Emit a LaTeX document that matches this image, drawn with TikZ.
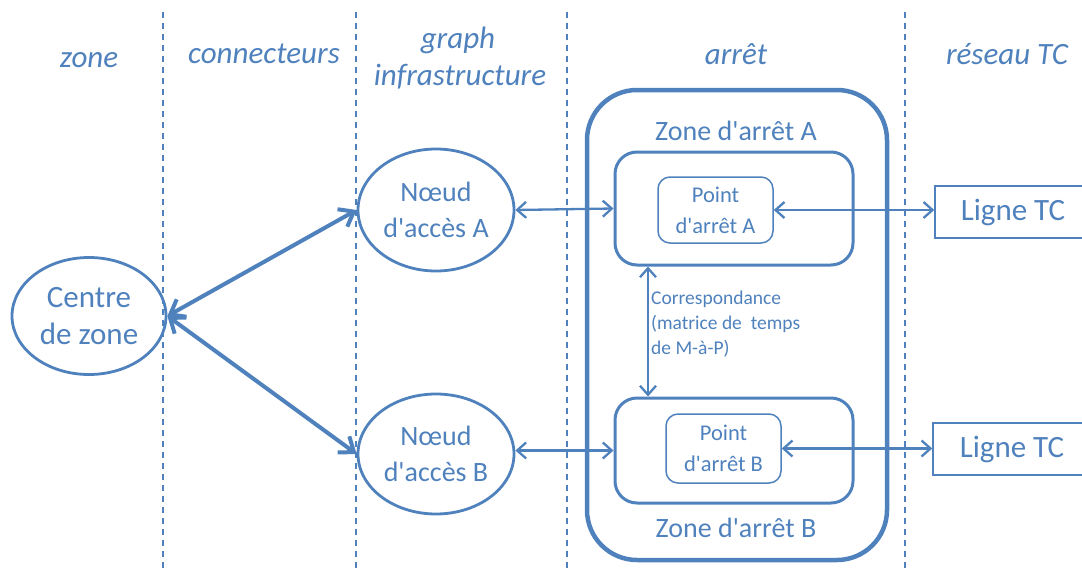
\documentclass[tikz,border=0pt]{standalone}
\usepackage{fontspec}
\setmainfont{Carlito}[Ligatures=TeXOff]
\usetikzlibrary{shapes.geometric,arrows.meta}
\definecolor{bl}{RGB}{79,129,189}
\begin{document}
\begin{tikzpicture}[x=1pt,y=-1pt,
  every node/.style={text=bl},
  hdr/.style={anchor=base,font=\fontsize{31}{37}\selectfont\itshape,inner sep=0},
  sep/.style={draw=bl,line width=1.5pt,dash pattern=on 6pt off 5pt},
  ell/.style={ellipse,draw=bl,line width=2.8pt,inner sep=0,align=center},
  thin/.style={draw=bl,line width=2.3pt,{Straight Barb[length=9pt,width=16pt]}-{Straight Barb[length=9pt,width=16pt]}},
  thick/.style={draw=bl,line width=4pt,{Straight Barb[length=13pt,width=20pt]}-{Straight Barb[length=13pt,width=20pt]}},
  zbox/.style={draw=bl,line width=3pt,rounded corners=22pt,inner sep=0},
  pbox/.style={draw=bl,line width=1.5pt,rounded corners=12pt,inner sep=0,align=center,font=\fontsize{22.5}{31}\selectfont},
  lbox/.style={draw=bl,line width=1.5pt,inner sep=0,font=\fontsize{31}{37}\selectfont}
]
\useasboundingbox (0,0) rectangle (1082,573);
% separators
\foreach \x/\n in {163/s1,356/s2,567/s3,905/s4}{
  \coordinate (\n t) at (\x,12);
  \coordinate (\n b) at (\x,573);
  \draw[sep] (\n t) -- (\n b);
}
% headers
\node[hdr] (h1) at (89,67) {zone};
\node[hdr] (h2) at (264,63) {connecteurs};
\node[hdr] (h3a) at (458,48) {graph};
\node[hdr] (h3b) at (460,85) {infrastructure};
\node[hdr] (h4) at (736,64) {arrêt};
\node[hdr] (h5) at (1007,64) {réseau TC};
% arret container
\node[draw=bl,line width=4.5pt,rounded corners=50pt,minimum width=300pt,minimum height=470pt,inner sep=0] (arret) at (737,325) {};
% zones
\node[zbox,minimum width=238pt,minimum height=113pt] (zA) at (734,208.5) {};
\node[zbox,minimum width=238pt,minimum height=105pt] (zB) at (734,450.5) {};
\node[anchor=base,inner sep=0,font=\fontsize{28}{34}\selectfont] (tzA) at (736,140) {Zone d'arrêt A};
\node[anchor=base,inner sep=0,font=\fontsize{28}{34}\selectfont] (tzB) at (736,537) {Zone d'arrêt B};
% points
\node[pbox,minimum width=115pt,minimum height=66pt] (pA) at (715.5,210) {Point\\d'arrêt A};
\node[pbox,minimum width=115pt,minimum height=69pt] (pB) at (723.5,448.5) {Point\\d'arrêt B};
% ellipses
\node[ell,minimum width=154pt,minimum height=117pt,font=\fontsize{31}{37}\selectfont] (cz) at (89,316) {Centre\\de zone};
\node[ell,minimum width=156pt,minimum height=122pt,font=\fontsize{28}{36}\selectfont] (nA) at (436,210) {Nœud\\d'accès A};
\node[ell,minimum width=156pt,minimum height=120pt,font=\fontsize{28}{36}\selectfont] (nB) at (436,454) {Nœud\\d'accès B};
% lignes TC
\node[lbox,minimum width=156pt,minimum height=52pt] (lA) at (1013,212) {Ligne TC};
\node[lbox,minimum width=158pt,minimum height=52pt] (lB) at (1012,449) {Ligne TC};
% connectors
\draw[thick] (cz.east) -- (nA.west);
\draw[thick] (cz.east) -- (nB.west);
\draw[thin] (nA.east) -- (zA.west);
\draw[thin] (nB.east |- zB.west) -- (zB.west);
\draw[thin] (pA.east) -- (pA.east -| lA.west);
\draw[thin] (pB.east) -- (pB.east -| lB.west);
\coordinate (cx) at (648,0);
\draw[thin] (zA.south -| cx) -- (zB.north -| cx);
\node[anchor=north west,inner sep=0,align=left,font=\fontsize{19.5}{25}\selectfont] (corr) at (651,291) {Correspondance\\(matrice de \ temps\\de M-à-P)};
\end{tikzpicture}
\end{document}
